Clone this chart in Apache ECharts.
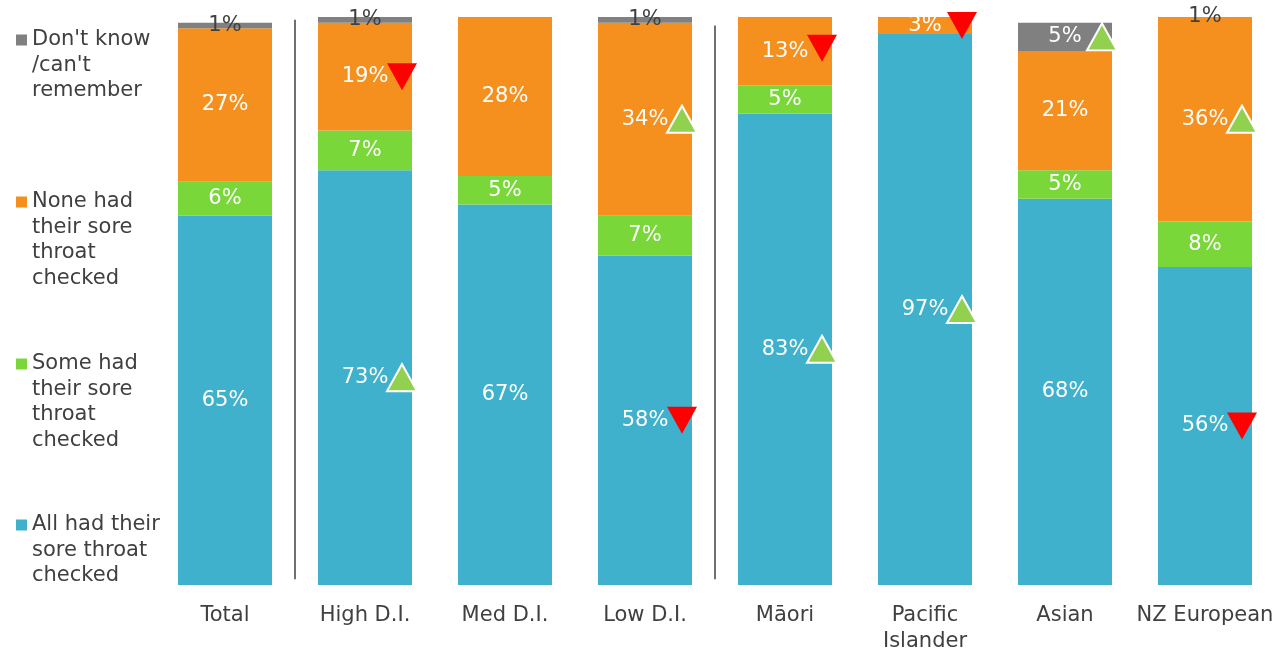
<!DOCTYPE html>
<html>
<head>
<meta charset="utf-8">
<script src="https://cdn.jsdelivr.net/npm/echarts@6/dist/echarts.min.js"></script>
<style>
  html, body { margin: 0; padding: 0; background: #fff; }
  #chart { width: 1277px; height: 650px; }
</style>
</head>
<body>
<div id="chart"></div>
<script>
// Groups shown along the bottom
const categories = ['Total', 'High D.I.', 'Med D.I.', 'Low D.I.', 'Māori', 'Pacific\nIslander', 'Asian', 'NZ European'];

// Share of respondents (%) in each response group
const allChecked  = [65, 73, 67, 58, 83, 97, 68, 56];
const someChecked = [6, 7, 5, 7, 5, 0, 5, 8];
const noneChecked = [27, 19, 28, 34, 13, 3, 21, 36];
const dontKnow    = [1, 1, 0, 1, 0, 0, 5, 1];

// Significance markers: 1 = significantly higher, -1 = significantly lower
const sigAll  = [0, 1, 0, -1, 1, 1, 0, -1];
const sigSome = [0, 0, 0, 0, 0, 0, 0, 0];
const sigNone = [0, -1, 0, 1, -1, -1, 0, 1];
const sigDK   = [0, 0, 0, 0, 0, 0, 1, 0];

// Series names and their wrapped legend text
const seriesNames = [
  'All had their sore throat checked',
  'Some had their sore throat checked',
  'None had their sore throat checked',
  "Don't know/can't remember"
];
const legendLines = {
  'All had their sore throat checked': ['All had their', 'sore throat', 'checked'],
  'Some had their sore throat checked': ['Some had', 'their sore', 'throat', 'checked'],
  'None had their sore throat checked': ['None had', 'their sore', 'throat', 'checked'],
  "Don't know/can't remember": ["Don't know", "/can't", 'remember']
};

const colors = ['#40B1CD', '#7AD73A', '#F5901F', '#808080'];
const FONT = 'DejaVu Sans';
const FONT_SIZE = 21;
const TEXT_DARK = '#404040';

const stacks = [allChecked, someChecked, noneChecked, dontKnow];
const sigs = [sigAll, sigSome, sigNone, sigDK];

// Midpoint of every stacked segment, used to place the markers
function segmentMid(seriesIdx, catIdx) {
  let base = 0;
  for (let s = 0; s < seriesIdx; s++) base += stacks[s][catIdx];
  return base + stacks[seriesIdx][catIdx] / 2;
}

const upPoints = [];
const downPoints = [];
sigs.forEach((arr, s) => {
  arr.forEach((v, c) => {
    if (v === 1) upPoints.push([c, segmentMid(s, c)]);
    if (v === -1) downPoints.push([c, segmentMid(s, c)]);
  });
});

const barSeries = stacks.map((vals, s) => ({
  name: seriesNames[s],
  type: 'bar',
  stack: 'total',
  barWidth: 94,
  itemStyle: { color: colors[s] },
  data: vals.map((v, c) => {
    const item = { value: v };
    if (s === 3 && c !== 6) item.label = { color: TEXT_DARK };
    return item;
  }),
  label: {
    show: true,
    position: 'inside',
    color: '#ffffff',
    fontFamily: FONT,
    fontSize: FONT_SIZE,
    formatter: p => (p.value ? p.value + '%' : '')
  },
  emphasis: { disabled: true }
}));

// One legend block per series, icon aligned with the first text line
const LH = 25.5;
const iconY = {
  "Don't know/can't remember": 40,
  'None had their sore throat checked': 202,
  'Some had their sore throat checked': 364,
  'All had their sore throat checked': 525
};
const legends = Object.keys(iconY).map(name => {
  const n = legendLines[name].length;
  return {
    data: [name],
    orient: 'vertical',
    left: 16,
    top: iconY[name] - (2 * n - 1) * LH / 2,
    padding: 0,
    itemWidth: 11,
    itemHeight: 11,
    itemGap: 0,
    icon: 'rect',
    selectedMode: false,
    textStyle: { fontFamily: FONT, fontSize: FONT_SIZE, color: TEXT_DARK, lineHeight: LH },
    formatter: nm => '\n'.repeat(n - 1) + legendLines[nm].join('\n')
  };
});

const option = {
  animation: false,
  backgroundColor: '#ffffff',
  grid: { left: 155, right: 2, top: 17, bottom: 65, outerBoundsMode: 'none', containLabel: false },
  legend: legends,
  xAxis: [
    {
      type: 'category',
      data: categories,
      axisLine: { show: false },
      axisTick: { show: false },
      axisLabel: {
        fontFamily: FONT, fontSize: FONT_SIZE, color: TEXT_DARK,
        margin: 18, lineHeight: 26, interval: 0
      }
    },
    { type: 'value', min: 0, max: 8, show: false }
  ],
  yAxis: { type: 'value', min: 0, max: 100, show: false },
  series: [
    ...barSeries,
    {
      type: 'scatter',
      data: upPoints,
      symbol: 'triangle',
      symbolSize: [30, 27],
      symbolOffset: [37, 0],
      itemStyle: { color: '#92D050', borderColor: '#ffffff', borderWidth: 2, opacity: 1 },
      silent: true,
      z: 5
    },
    {
      type: 'scatter',
      data: downPoints,
      symbol: 'triangle',
      symbolRotate: 180,
      symbolSize: [30, 27],
      symbolOffset: [37, 0],
      itemStyle: { color: '#FF0000', opacity: 1 },
      silent: true,
      z: 5
    },
    {
      // group separators
      type: 'line',
      xAxisIndex: 1,
      data: [],
      silent: true,
      markLine: {
        silent: true,
        symbol: 'none',
        label: { show: false },
        lineStyle: { color: '#404040', width: 1.5, type: 'solid' },
        data: [
          [{ coord: [1, 1] }, { coord: [1, 99.5] }],
          [{ coord: [4, 1] }, { coord: [4, 98.5] }]
        ]
      }
    }
  ]
};

const chart = echarts.init(document.getElementById('chart'), null, { renderer: 'canvas' });
chart.setOption(option);
</script>
</body>
</html>
